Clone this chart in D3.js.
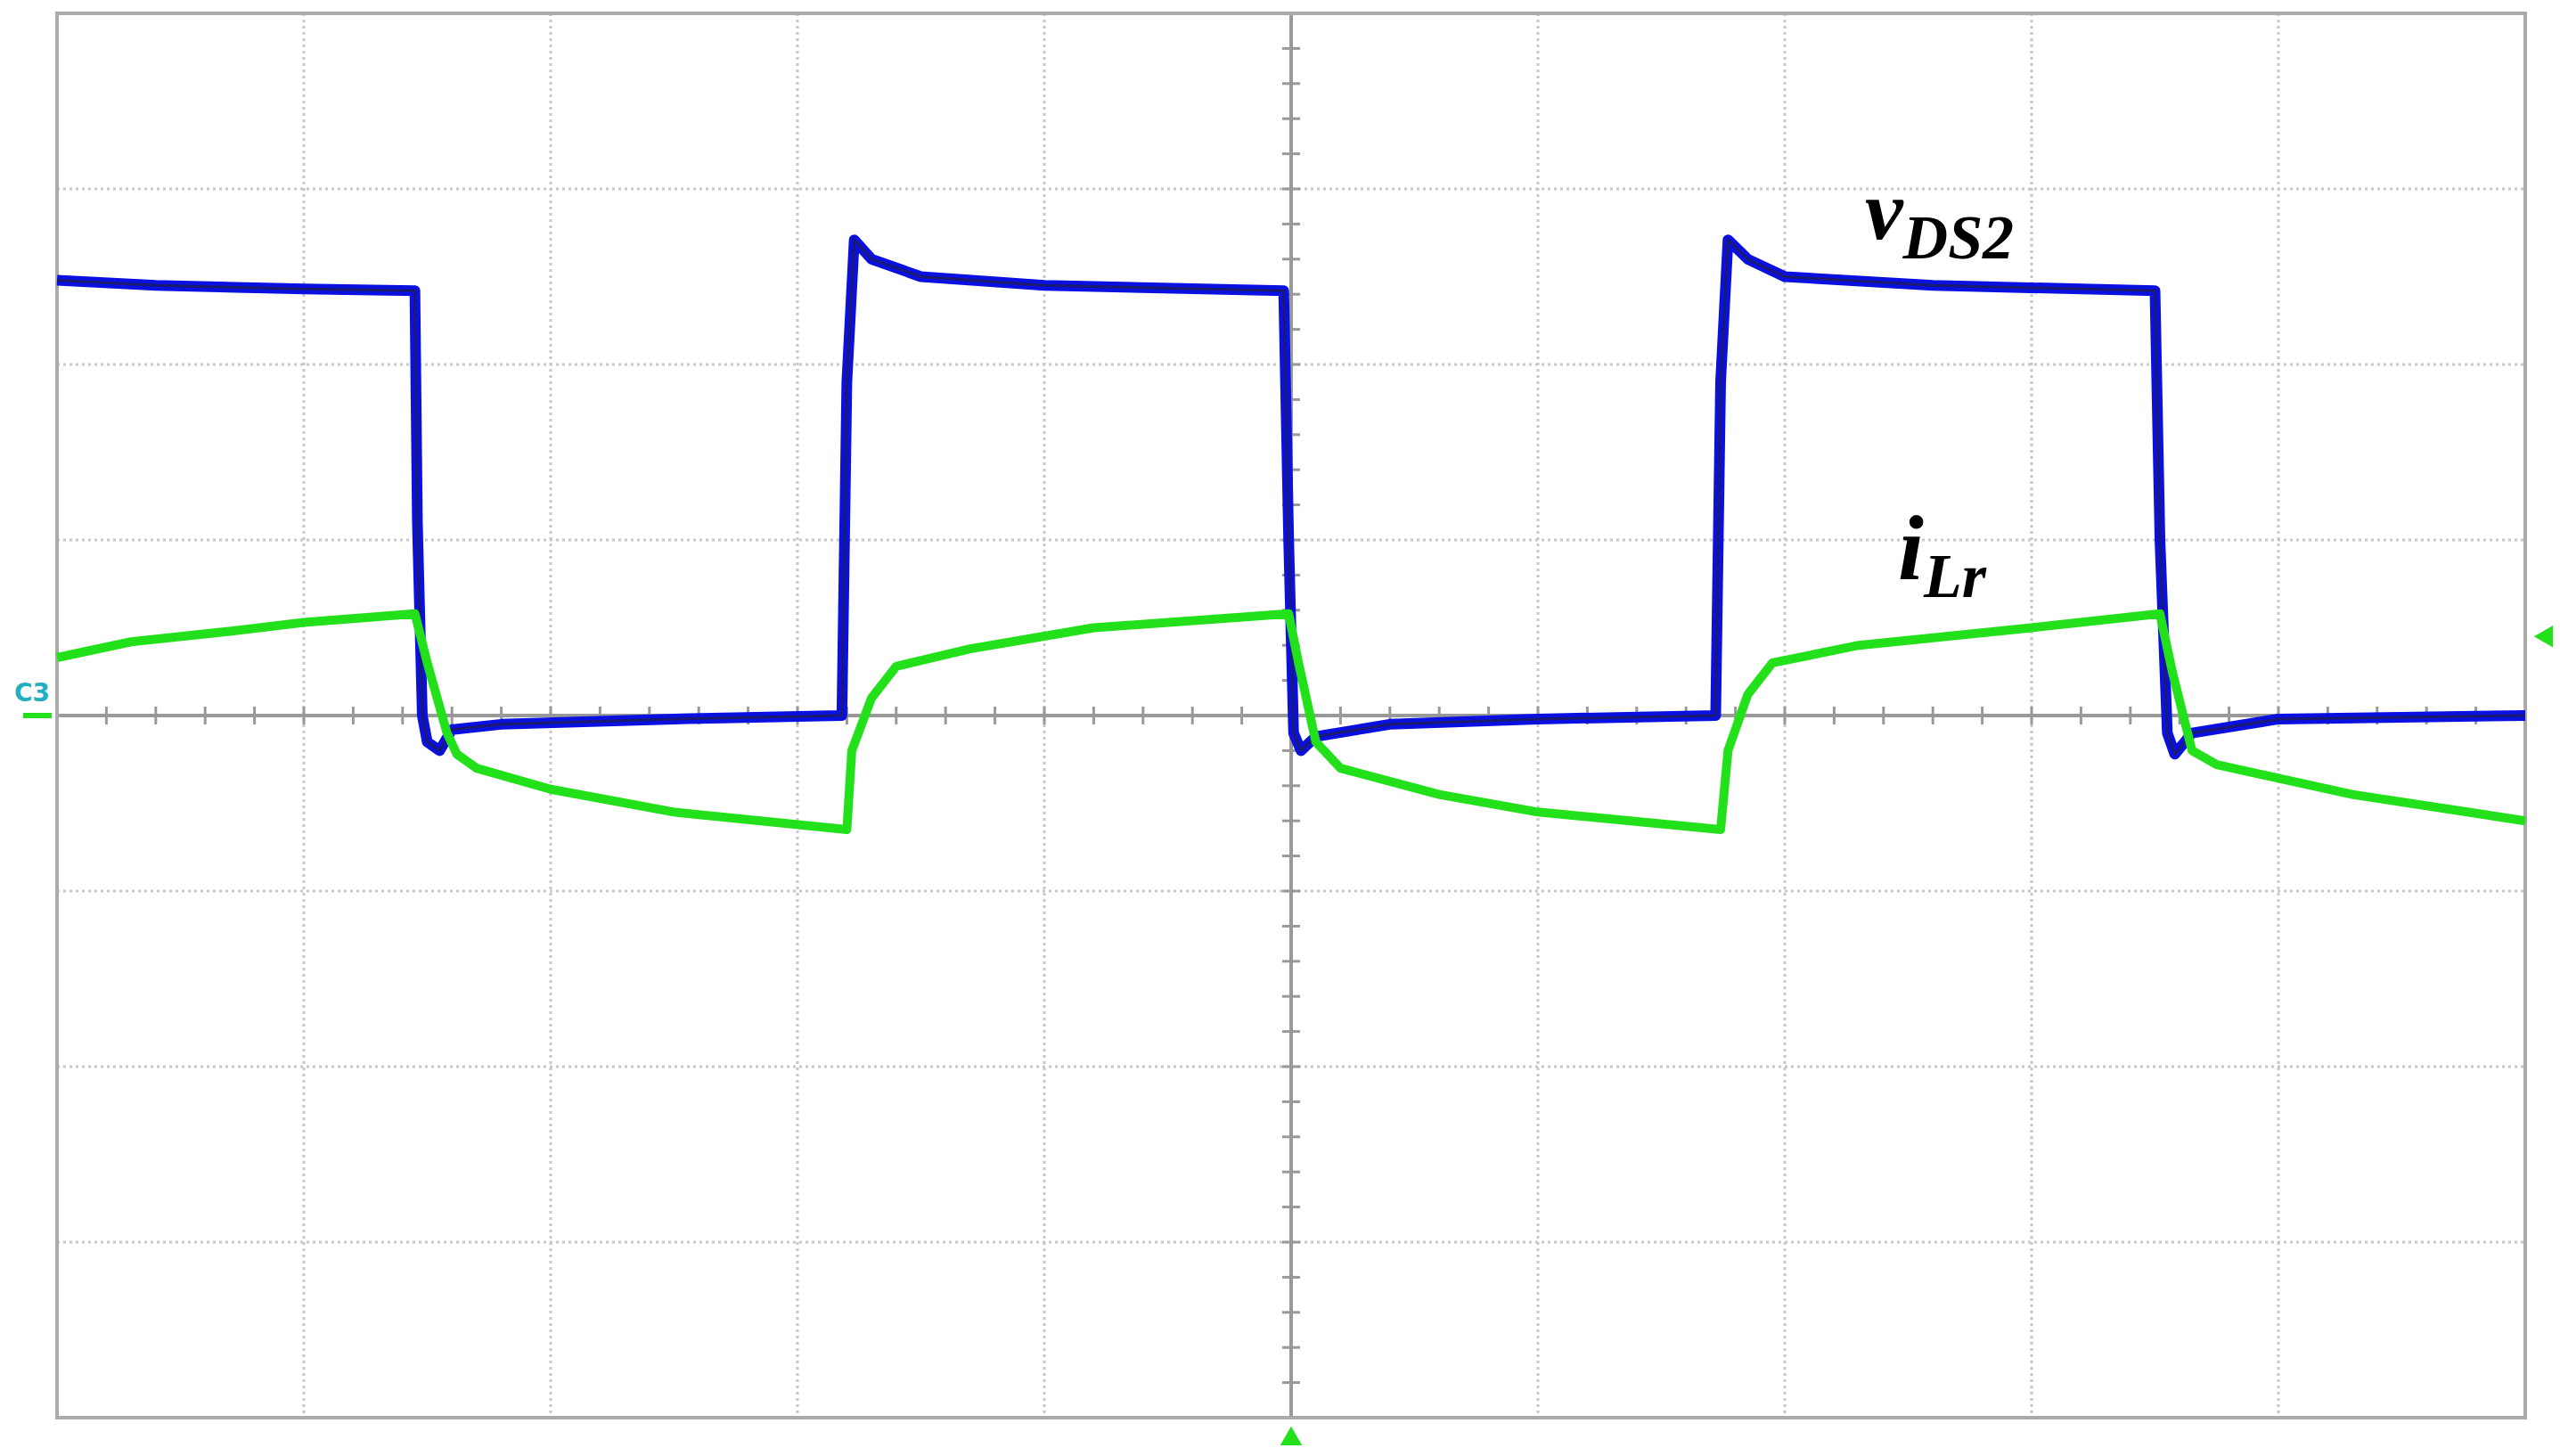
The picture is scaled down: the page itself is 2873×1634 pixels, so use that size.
<!DOCTYPE html>
<html>
<head>
<meta charset="utf-8">
<script src="https://cdn.jsdelivr.net/npm/d3@7"></script>
<style>
body { margin: 0; background: #fff; }
</style>
</head>
<body>
<svg id="svg" width="2873" height="1634"></svg>
<script>
// scope trace, units are screen divisions (10 x 8, zero at centre)
var vdsT = [0, 0.4, 1.0, 1.45, 1.46, 1.48, 1.50, 1.55, 1.6, 1.8, 2.5, 3.18, 3.20, 3.23, 3.3, 3.5, 4.0, 4.97,
            4.99, 5.01, 5.04, 5.1, 5.4, 6.0, 6.72, 6.74, 6.77, 6.85, 7.0, 7.6, 8.50, 8.52, 8.55, 8.58, 8.65, 9.0, 10];
var vdsV = [2.48, 2.45, 2.43, 2.42, 1.1, 0.0, -0.15, -0.2, -0.08, -0.05, -0.02, 0.0, 1.9, 2.71, 2.6, 2.5, 2.45, 2.42,
            1.0, -0.1, -0.2, -0.12, -0.05, -0.02, 0.0, 1.9, 2.71, 2.6, 2.5, 2.45, 2.42, 1.0, -0.1, -0.22, -0.1, -0.02, 0.0];

var iT = [0, 0.3, 0.7, 1.0, 1.45, 1.5, 1.58, 1.62, 1.7, 2.0, 2.5, 3.2, 3.22, 3.3, 3.4, 3.7, 4.2, 4.99,
          5.03, 5.1, 5.2, 5.6, 6.0, 6.74, 6.77, 6.85, 6.95, 7.3, 8.0, 8.52, 8.57, 8.65, 8.75, 9.3, 10];
var iV = [0.33, 0.42, 0.48, 0.53, 0.58, 0.3, -0.1, -0.22, -0.3, -0.42, -0.55, -0.65, -0.2, 0.1, 0.28, 0.38, 0.5, 0.58,
          0.3, -0.15, -0.3, -0.45, -0.55, -0.65, -0.2, 0.12, 0.3, 0.4, 0.5, 0.58, 0.25, -0.2, -0.28, -0.45, -0.6];

var xDivs = d3.range(0, 11);
var yDivs = d3.range(-4, 5);

var L = 64, R = 2834, T = 15, B = 1591;
var x = d3.scaleLinear().domain([0, 10]).range([L, R]);
var y = d3.scaleLinear().domain([-4, 4]).range([B, T]);

var svg = d3.select("svg");

// dotted grid
svg.selectAll(".gx").data(xDivs.slice(1, -1).filter(function(d){ return d != 5; })).enter()
  .append("line").attr("x1", x).attr("x2", x).attr("y1", T).attr("y2", B)
  .attr("stroke", "#c8c8c8").attr("stroke-width", 3).attr("stroke-dasharray", "3,4");
svg.selectAll(".gy").data(yDivs.slice(1, -1).filter(function(d){ return d != 0; })).enter()
  .append("line").attr("y1", y).attr("y2", y).attr("x1", L).attr("x2", R)
  .attr("stroke", "#c8c8c8").attr("stroke-width", 3).attr("stroke-dasharray", "3,4");

// centre axes with minor ticks
svg.append("line").attr("x1", x(5)).attr("x2", x(5)).attr("y1", T).attr("y2", B).attr("stroke", "#999").attr("stroke-width", 4);
svg.append("line").attr("y1", y(0)).attr("y2", y(0)).attr("x1", L).attr("x2", R).attr("stroke", "#999").attr("stroke-width", 4);
var minor = d3.range(0, 50.01, 1).map(function(d){ return d / 5; });
svg.selectAll(".mx").data(minor).enter().append("line")
  .attr("x1", x).attr("x2", x).attr("y1", y(0) - 10).attr("y2", y(0) + 10)
  .attr("stroke", "#999").attr("stroke-width", 3);
var minorY = d3.range(-20, 20.01, 1).map(function(d){ return d / 5; });
svg.selectAll(".my").data(minorY).enter().append("line")
  .attr("y1", y).attr("y2", y).attr("x1", x(5) - 10).attr("x2", x(5) + 10)
  .attr("stroke", "#999").attr("stroke-width", 3);

// border
svg.append("rect").attr("x", L).attr("y", T).attr("width", R - L).attr("height", B - T)
  .attr("fill", "none").attr("stroke", "#aaa").attr("stroke-width", 4);

var line = d3.line().x(function(d){ return x(d[0]); }).y(function(d){ return y(d[1]); });

svg.append("path").datum(d3.zip(vdsT, vdsV)).attr("d", line)
  .attr("fill", "none").attr("stroke", "#0a10e0").attr("stroke-width", 12).attr("stroke-linejoin", "round");
svg.append("path").datum(d3.zip(vdsT, vdsV)).attr("d", line)
  .attr("fill", "none").attr("stroke", "#1a1a70").attr("stroke-width", 3);

svg.append("path").datum(d3.zip(iT, iV)).attr("d", line)
  .attr("fill", "none").attr("stroke", "#22e01a").attr("stroke-width", 10).attr("stroke-linejoin", "round");

// labels
var serif = "'Liberation Serif', 'Times New Roman', Times, serif";
var t1 = svg.append("text").attr("x", 2093).attr("y", 268)
  .attr("font-family", serif).attr("font-style", "italic").attr("font-weight", "bold").attr("font-size", 96);
t1.append("tspan").text("v");
t1.append("tspan").attr("dy", 22).attr("font-size", 70).text("DS2");
var t2 = svg.append("text").attr("x", 2130).attr("y", 650)
  .attr("font-family", serif).attr("font-style", "italic").attr("font-weight", "bold").attr("font-size", 104);
t2.append("tspan").text("i");
t2.append("tspan").attr("dy", 20).attr("font-size", 70).text("Lr");

// markers
svg.append("path").attr("d", d3.symbol(d3.symbolTriangle, 260)()).attr("fill", "#22e01a")
  .attr("transform", "translate(" + x(5) + "," + (B + 24) + ")");
svg.append("path").attr("d", d3.symbol(d3.symbolTriangle, 260)()).attr("fill", "#22e01a")
  .attr("transform", "translate(" + (R + 24) + "," + y(0.45) + ") rotate(-90)");
svg.append("text").attr("x", 16).attr("y", y(0) - 16).attr("font-family", "DejaVu Sans").attr("font-weight", "bold")
  .attr("font-size", 28).attr("fill", "#22b0c0").text("C3");
svg.append("line").attr("x1", 26).attr("x2", 58).attr("y1", y(0)).attr("y2", y(0)).attr("stroke", "#22e01a").attr("stroke-width", 6);
</script>
</body>
</html>
